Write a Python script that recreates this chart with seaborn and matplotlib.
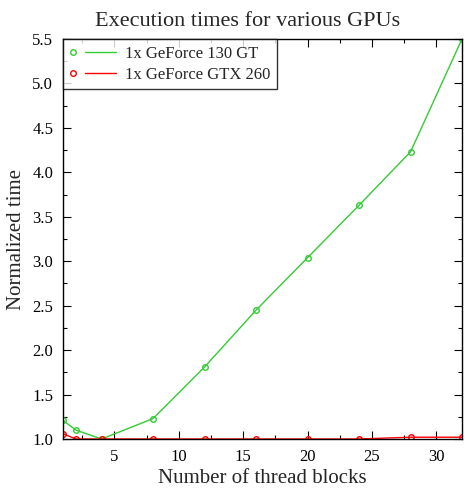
import matplotlib
matplotlib.use("Agg")
import matplotlib.pyplot as plt
import seaborn as sns
import pandas as pd
from matplotlib.ticker import MultipleLocator, FormatStrFormatter
from matplotlib.lines import Line2D
from matplotlib.legend_handler import HandlerBase

threads = [1, 2, 4, 8, 12, 16, 20, 24, 28, 32]
gt130 = [1.21, 1.10, 1.00, 1.23, 1.81, 2.45, 3.04, 3.63, 4.23, 5.50]
gtx260 = [1.06, 1.00, 1.00, 1.00, 1.00, 1.00, 1.00, 1.00, 1.02, 1.02]
labels = ["1x GeForce 130 GT", "1x GeForce GTX 260"]
colors = ["#33cc33", "#ff0000"]

df = pd.concat([
    pd.DataFrame({"threads": threads, "time": gt130, "gpu": labels[0]}),
    pd.DataFrame({"threads": threads, "time": gtx260, "gpu": labels[1]}),
])

sns.set_style("ticks")
plt.rcParams["font.family"] = ["Liberation Serif", "DejaVu Serif"]

fig = plt.figure(figsize=(4.65, 4.88), dpi=100)
ax = fig.add_axes([63/465, 49/488, (462-63)/465, (439-39)/488])

sns.lineplot(data=df, x="threads", y="time", hue="gpu", palette=colors,
             marker="o", markersize=4, markerfacecolor="none",
             markeredgewidth=1.0, linewidth=1.0, ax=ax, legend=False)
for line, c in zip(ax.lines, colors):
    line.set_markeredgecolor(c)

ax.set_xlim(1, 32)
ax.set_ylim(1.0, 5.5)
ax.xaxis.set_major_locator(MultipleLocator(5))
ax.xaxis.set_minor_locator(MultipleLocator(2.5))
ax.yaxis.set_major_locator(MultipleLocator(0.5))
ax.yaxis.set_minor_locator(MultipleLocator(0.25))
ax.yaxis.set_major_formatter(FormatStrFormatter("%.1f"))
ax.tick_params(which="both", direction="in", top=True, right=True,
               colors="black", labelsize=12, width=0.8, pad=7)
ax.tick_params(which="major", length=6)
ax.tick_params(which="minor", length=3)
for s in ax.spines.values():
    s.set_visible(True)
    s.set_color("black")
    s.set_linewidth(1.0)

ax.set_xlabel("Number of thread blocks", fontsize=15, labelpad=3)
ax.set_ylabel("Normalized time", fontsize=15, labelpad=4.5)
ax.set_title("Execution times for various GPUs", fontsize=16, pad=9,
             x=(248-63)/399)


class MarkerThenLine(HandlerBase):
    def create_artists(self, legend, orig_handle, xdescent, ydescent,
                       width, height, fontsize, trans):
        c = orig_handle.get_color()
        y = height / 2 - ydescent
        m = Line2D([0.08 * width - xdescent], [y], marker="o", markersize=4,
                   markerfacecolor="none", markeredgecolor=c,
                   markeredgewidth=1.0, linestyle="none")
        l = Line2D([0.33 * width - xdescent, width - xdescent], [y, y],
                   color=c, linewidth=1.0)
        m.set_transform(trans)
        l.set_transform(trans)
        return [m, l]


handles = [Line2D([], [], color=c) for c in colors]
leg = ax.legend(handles, labels, loc="upper left", fontsize=12, frameon=True,
                fancybox=False, edgecolor="black", borderpad=0.4,
                handlelength=2.8, handletextpad=0.5, borderaxespad=0.0,
                labelspacing=0.3,
                handler_map={Line2D: MarkerThenLine()})
leg.get_frame().set_linewidth(1.0)

fig.savefig("out.png", dpi=100)
